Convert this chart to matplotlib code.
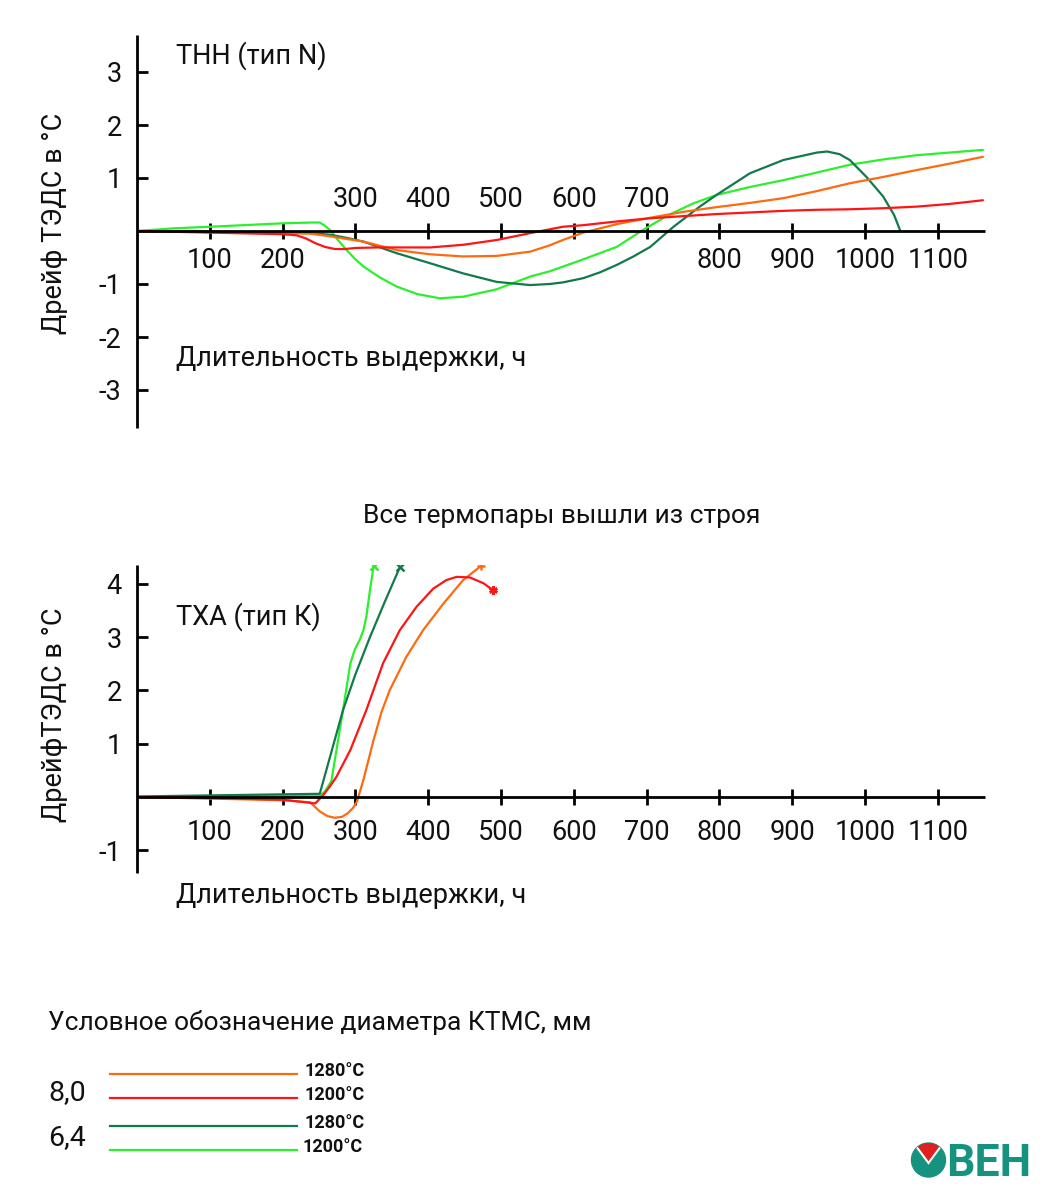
import matplotlib
matplotlib.use('Agg')
import matplotlib.pyplot as plt
from matplotlib.transforms import offset_copy
from matplotlib.patches import Circle, Polygon

plt.rcParams['font.family'] = ['Roboto', 'DejaVu Sans']

# ---------------- data ----------------
hours_ticks = [100, 200, 300, 400, 500, 600, 700, 800, 900, 1000, 1100]
top_above = [300, 400, 500, 600, 700]          # labels drawn above axis in top chart
top_yticks = [-3, -2, -1, 1, 2, 3]
bot_yticks = [-1, 1, 2, 3, 4]

# Type N (ТНН)
n_or_x = [0, 100, 200, 238, 265, 311, 357, 403, 448, 494, 540, 567, 585, 613, 659, 705, 750, 796, 842, 888, 933, 979, 1025, 1071, 1116, 1162]
n_or_y = [0, -0.02, -0.04, -0.05, -0.1, -0.2, -0.36, -0.44, -0.48, -0.47, -0.39, -0.27, -0.17, -0.03, 0.13, 0.25, 0.36, 0.45, 0.53, 0.62, 0.75, 0.9, 1.02, 1.15, 1.27, 1.4]

n_rd_x = [0, 100, 200, 219, 232, 245, 258, 272, 286, 300, 332, 370, 403, 448, 494, 540, 585, 613, 659, 705, 750, 796, 842, 888, 933, 979, 1025, 1071, 1116, 1162]
n_rd_y = [0, -0.03, -0.06, -0.08, -0.14, -0.23, -0.3, -0.34, -0.34, -0.32, -0.31, -0.31, -0.31, -0.26, -0.17, -0.04, 0.08, 0.11, 0.18, 0.24, 0.28, 0.32, 0.35, 0.38, 0.4, 0.41, 0.43, 0.46, 0.51, 0.58]

n_dg_x = [0, 100, 200, 240, 265, 288, 311, 357, 403, 448, 494, 540, 567, 585, 613, 636, 659, 682, 705, 737, 773, 796, 842, 888, 934, 948, 965, 979, 1002, 1025, 1040, 1048]
n_dg_y = [0, -0.01, -0.03, -0.04, -0.07, -0.13, -0.2, -0.42, -0.61, -0.8, -0.96, -1.02, -1.0, -0.97, -0.89, -0.78, -0.64, -0.48, -0.3, 0.08, 0.46, 0.68, 1.09, 1.34, 1.48, 1.5, 1.45, 1.34, 1.02, 0.65, 0.3, 0.02]

n_lg_x = [0, 50, 100, 200, 240, 251, 258, 265, 276, 288, 299, 311, 334, 357, 385, 416, 448, 494, 540, 567, 608, 659, 695, 730, 764, 796, 842, 888, 933, 979, 1025, 1071, 1116, 1162]
n_lg_y = [0, 0.05, 0.08, 0.145, 0.16, 0.16, 0.1, 0.02, -0.17, -0.36, -0.52, -0.67, -0.88, -1.05, -1.19, -1.27, -1.24, -1.1, -0.86, -0.76, -0.56, -0.3, 0.02, 0.3, 0.52, 0.68, 0.83, 0.96, 1.1, 1.25, 1.35, 1.43, 1.48, 1.53]

# Type K (ТХА)
k_or_x = [0, 100, 200, 238, 251, 262, 272, 282, 290, 297, 302, 311, 325, 336, 347, 370, 393, 421, 448, 472]
k_or_y = [0, -0.03, -0.06, -0.1, -0.27, -0.36, -0.39, -0.37, -0.3, -0.2, -0.09, 0.32, 1.07, 1.6, 2.0, 2.63, 3.13, 3.63, 4.07, 4.33]

k_rd_x = [0, 100, 200, 238, 245, 256, 265, 274, 293, 315, 338, 361, 384, 407, 425, 439, 457, 476, 489]
k_rd_y = [0, -0.02, -0.05, -0.11, -0.12, 0.04, 0.2, 0.38, 0.88, 1.63, 2.51, 3.13, 3.57, 3.91, 4.07, 4.13, 4.12, 4.01, 3.88]

k_dg_x = [0, 100, 200, 251, 260, 283, 300, 320, 340, 361]
k_dg_y = [0.01, 0.03, 0.05, 0.06, 0.5, 1.63, 2.3, 3.0, 3.65, 4.31]

k_lg_x = [0, 100, 200, 251, 258, 267, 274, 283, 293, 299, 306, 311, 315, 320, 325]
k_lg_y = [0.0, 0.01, 0.02, 0.03, 0.1, 0.3, 0.88, 1.63, 2.5, 2.76, 2.95, 3.13, 3.38, 3.88, 4.33]

# end-of-life markers (type K)
k_end_marker = {'or': '+', 'rd': (6, 2, 0), 'dg': 'x', 'lg': 'x'}

legend_labels = ['1280°C', '1200°C', '1280°C', '1200°C']
diam_labels = ['8,0', '6,4']

# ---------------- style ----------------
C_OR = '#ff6a10'
C_RD = '#ff1414'
C_DG = '#127a4a'
C_LG = '#2cf02c'
LW = 1.6
FS = 19.5

W, H = 1059, 1200
fig = plt.figure(figsize=(W / 100, H / 100), dpi=100)


def fx(px):
    return px / W


def fy(py):
    return 1 - py / H


def make_axes(top_px, bot_px, zero_px, ppu):
    left, right = 137, 985
    ax = fig.add_axes([fx(left), fy(bot_px), (right - left) / W, (bot_px - top_px) / H])
    ax.set_xlim(0, (right - left) * 100 / 72.8)
    ax.set_ylim((zero_px - bot_px) / ppu, (zero_px - top_px) / ppu)
    for s in ['top', 'right']:
        ax.spines[s].set_visible(False)
    ax.spines['left'].set_position(('data', 0))
    ax.spines['bottom'].set_position(('data', 0))
    for s in ['left', 'bottom']:
        ax.spines[s].set_linewidth(2.0)
        ax.spines[s].set_capstyle('butt')
    ax.set_xticks(hours_ticks)
    ax.set_xticklabels([])
    ax.tick_params(axis='x', direction='inout', length=11, width=2.0)
    ax.tick_params(axis='y', direction='in', length=8, width=2.0, pad=11, labelsize=FS,
                   labelcolor='#111111')
    ax.patch.set_visible(False)
    return ax


def xlabels(ax, above, below_off, above_off):
    for t in hours_ticks:
        if t in above:
            tr = offset_copy(ax.transData, fig=fig, y=above_off, units='dots')
        else:
            tr = offset_copy(ax.transData, fig=fig, y=-below_off, units='dots')
        ax.text(t, 0, str(t), transform=tr, ha='center', va='baseline', fontsize=FS, color='#111111')


# ---- top chart ----
ax1 = make_axes(35, 428, 231, 53.0)
ax1.set_yticks(top_yticks)
ax1.set_yticklabels([str(v) for v in top_yticks])
xlabels(ax1, top_above, 37, 24)
ax1.plot(n_lg_x, n_lg_y, color=C_LG, lw=LW, solid_capstyle='round')
ax1.plot(n_dg_x, n_dg_y, color=C_DG, lw=LW, solid_capstyle='round')
ax1.plot(n_or_x, n_or_y, color=C_OR, lw=LW, solid_capstyle='round')
ax1.plot(n_rd_x, n_rd_y, color=C_RD, lw=LW, solid_capstyle='round')

# ---- bottom chart ----
ax2 = make_axes(565, 873, 797, 53.3)
ax2.set_yticks(bot_yticks)
ax2.set_yticklabels([str(v) for v in bot_yticks])
xlabels(ax2, [], 43, 0)
for xs, ys, c, key in [(k_lg_x, k_lg_y, C_LG, 'lg'), (k_dg_x, k_dg_y, C_DG, 'dg'),
                       (k_or_x, k_or_y, C_OR, 'or'), (k_rd_x, k_rd_y, C_RD, 'rd')]:
    ax2.plot(xs, ys, color=c, lw=LW, solid_capstyle='round')
    ax2.plot(xs[-1], ys[-1], marker=k_end_marker[key], color=c, ms=6, mew=1.8, ls='none')

# ---- texts ----
TXT = '#111111'
fig.text(fx(176), fy(64), 'ТНН (тип N)', fontsize=FS, color=TXT, va='baseline')
fig.text(fx(176), fy(366), 'Длительность выдержки, ч', fontsize=FS, color=TXT, va='baseline')
fig.text(fx(55), fy(223), 'Дрейф ТЭДС в °С', fontsize=FS, color=TXT, rotation=90, ha='center', va='center')
fig.text(fx(562), fy(523), 'Все термопары вышли из строя', fontsize=19, color=TXT, ha='center', va='baseline')
fig.text(fx(176), fy(625), 'ТХА (тип К)', fontsize=FS, color=TXT, va='baseline')
fig.text(fx(176), fy(903), 'Длительность выдержки, ч', fontsize=FS, color=TXT, va='baseline')
fig.text(fx(55), fy(715), 'ДрейфТЭДС в °С', fontsize=FS, color=TXT, rotation=90, ha='center', va='center')

# ---- legend ----
fig.text(fx(48), fy(1030), 'Условное обозначение диаметра КТМС, мм', fontsize=19, color=TXT, va='baseline')
fig.text(fx(48), fy(1100), diam_labels[0], fontsize=20.5, color=TXT, va='baseline')
fig.text(fx(48), fy(1145), diam_labels[1], fontsize=20.5, color=TXT, va='baseline')
leg = fig.add_axes([0, 0, 1, 1])
leg.set_xlim(0, W)
leg.set_ylim(H, 0)
leg.axis('off')
leg_rows = [1074, 1098, 1126, 1150]
leg_text_x = [305, 305, 305, 303]
for row, c, lab, tx in zip(leg_rows, [C_OR, C_RD, C_DG, C_LG], legend_labels, leg_text_x):
    leg.plot([110, 297], [row, row], color=c, lw=LW)
    leg.text(tx, row - 3, lab, fontsize=13, fontweight='bold', color=TXT, va='center', ha='left')

# ---- logo ----
TEAL = '#16937f'
circ = Circle((928.5, 1160), 17, color=TEAL, zorder=2)
leg.add_patch(circ)
wedge = Polygon([(910, 1138), (947, 1138), (928.5, 1163)], closed=True, facecolor='#e02020',
                edgecolor='white', lw=1.5, zorder=3)
leg.add_patch(wedge)
wedge.set_clip_path(circ)
leg.text(946, 1176, 'ВЕН', fontsize=32, fontweight='bold', color=TEAL, va='baseline', ha='left')

fig.savefig('out.png', dpi=100)
